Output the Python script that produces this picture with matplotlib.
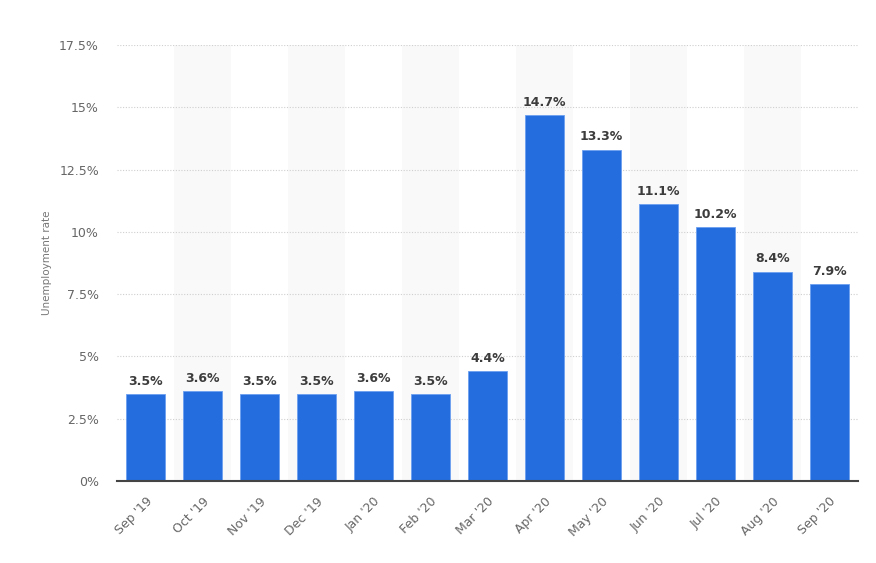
import numpy as np
import matplotlib
matplotlib.use("Agg")
import matplotlib.pyplot as plt

months = ["Sep '19", "Oct '19", "Nov '19", "Dec '19", "Jan '20", "Feb '20", "Mar '20",
          "Apr '20", "May '20", "Jun '20", "Jul '20", "Aug '20", "Sep '20"]
rates = [3.5, 3.6, 3.5, 3.5, 3.6, 3.5, 4.4, 14.7, 13.3, 11.1, 10.2, 8.4, 7.9]
yticks = [0, 2.5, 5, 7.5, 10, 12.5, 15, 17.5]
ytick_labels = ["0%", "2.5%", "5%", "7.5%", "10%", "12.5%", "15%", "17.5%"]

fig = plt.figure(figsize=(8.76, 5.63), dpi=100)
ax = fig.add_axes([117 / 876, 1 - 481 / 563, (858 - 117) / 876, (481 - 45) / 563])

x = np.arange(len(months))
# alternating background bands
for i in x[1::2]:
    ax.axvspan(i - 0.5, i + 0.5, color="#f9f9f9", zorder=0, lw=0)

for t in yticks[1:]:
    ax.axhline(t, color="#cfcfcf", lw=0.8, ls=(0, (1, 1.5)), zorder=1)

bars = ax.bar(x, rates, width=0.7, color="#246ddf", edgecolor="#6b9ff0", lw=0.6, zorder=2)
for xi, v in zip(x, rates):
    ax.text(xi, v + 0.25, f"{v:.1f}%", ha="center", va="bottom", fontsize=9,
            fontweight="bold", color="#3c3c3c", zorder=3)

ax.set_xlim(-0.5, len(months) - 0.5)
ax.set_ylim(0, 17.5)
ax.set_yticks(yticks)
ax.set_yticklabels(ytick_labels, fontsize=9, color="#666666")
ax.set_xticks(x)
ax.set_xticklabels(months, rotation=45, ha="right", rotation_mode="anchor",
                   fontsize=9, color="#666666")
ax.tick_params(axis="y", length=0, pad=13)
ax.tick_params(axis="x", length=0, pad=10)
for s in ["top", "right", "left"]:
    ax.spines[s].set_visible(False)
ax.spines["bottom"].set_color("#444444")
ax.spines["bottom"].set_linewidth(1.5)
ax.spines["bottom"].set_zorder(4)
ax.set_ylabel("Unemployment rate", fontsize=7.5, color="#777777", labelpad=5)

fig.savefig("out.png", dpi=100)
